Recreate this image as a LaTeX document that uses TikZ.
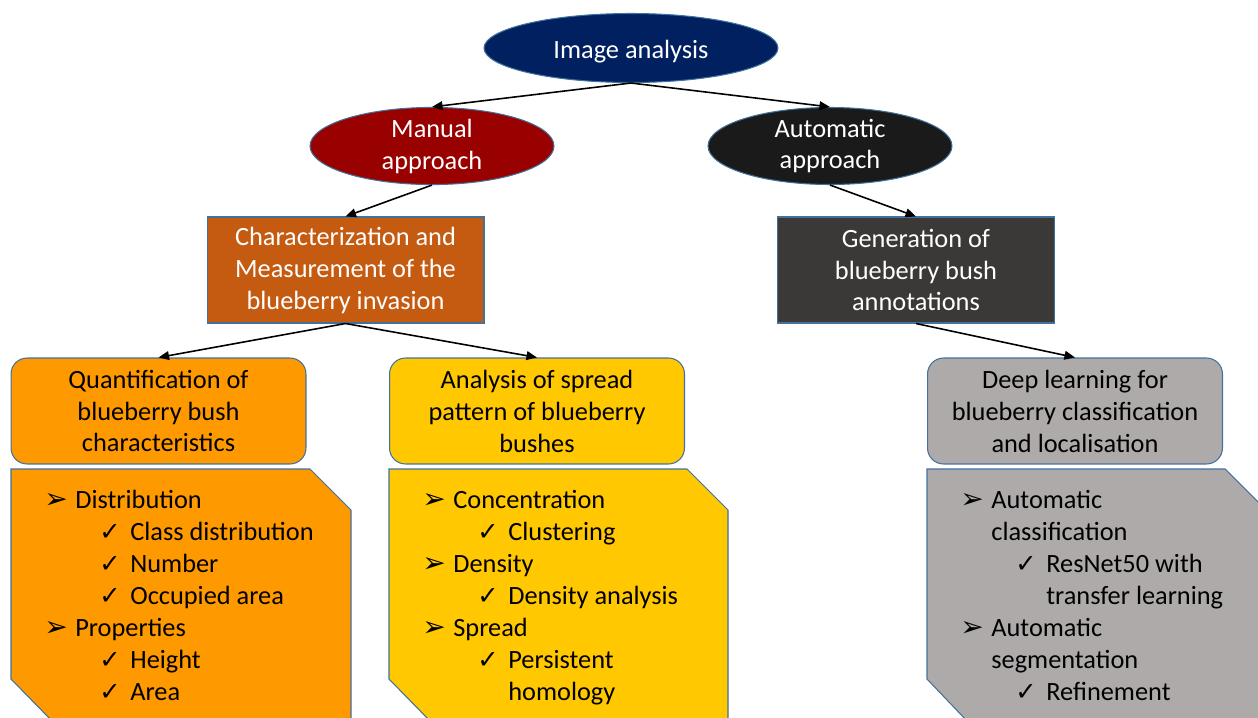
\documentclass[tikz,border=0pt]{standalone}
\usepackage{fontspec}
\setmainfont{Carlito}
\newfontfamily\dingfont{DejaVu Sans}
\usetikzlibrary{shapes.geometric,arrows.meta}

\definecolor{edgeblue}{HTML}{41719C}
\definecolor{rootnavy}{HTML}{002060}
\definecolor{manualred}{HTML}{990000}
\definecolor{autoblack}{HTML}{1A1A1A}
\definecolor{measbrown}{HTML}{C55A11}
\definecolor{gendark}{HTML}{3B3838}
\definecolor{quantorange}{HTML}{FF9900}
\definecolor{spreadgold}{HTML}{FFC800}
\definecolor{deepgray}{HTML}{AEAAAA}

% list markers and indents
\newcommand{\itemA}{\makebox[0.62cm][l]{\dingfont\fontsize{16}{16}\selectfont ➢}}
\newcommand{\itemB}{\hspace*{1.1cm}\makebox[0.62cm][l]{\dingfont\fontsize{14.5}{14.5}\selectfont ✓}}
\newcommand{\contA}{\hspace*{0.62cm}}
\newcommand{\contB}{\hspace*{1.72cm}}

\begin{document}
\begin{tikzpicture}[x=0.02cm, y=-0.02cm, font=\fontsize{15}{18.2}\selectfont,
	oval/.style={ellipse, draw=edgeblue, line width=0.6pt, inner sep=0pt, minimum height=1.38cm, text=white, align=center},
	block/.style={rectangle, draw=edgeblue, line width=0.6pt, inner sep=0pt, minimum width=5.54cm, minimum height=2.12cm, text=white, align=center},
	goal/.style={rectangle, rounded corners=0.32cm, draw=edgeblue, line width=0.6pt, inner sep=0pt, minimum width=5.9cm, minimum height=2.12cm, align=center},
	snip/.style={draw=edgeblue, line width=0.6pt},
	points/.style={anchor=north west, inner sep=0pt, align=left},
	link/.style={-{Triangle[length=6pt,width=5pt]}, line width=0.9pt}]
	\useasboundingbox (0,0) rectangle (1258,717);
	\clip (0,0) rectangle (1258,717);

	% top of the tree
	\node[oval, fill=rootnavy, minimum width=5.88cm] (image) at (631,48) {\raisebox{-2pt}[\height][\depth]{Image analysis}};
	\node[oval, fill=manualred, minimum width=4.88cm] (manual) at (432,146) {Manual\\approach};
	\node[oval, fill=autoblack, minimum width=4.88cm] (auto) at (830,146) {Automatic\\approach};

	\node[block, fill=measbrown] (measure) at (345.5,270) {Characterization and\\Measurement of the\\blueberry invasion};
	\node[block, fill=gendark] (annot) at (916,270) {Generation of\\blueberry bush\\annotations};

	\node[goal, fill=quantorange] (quant) at (158.5,411) {Quantification of\\blueberry bush\\characteristics};
	\node[goal, fill=spreadgold] (spread) at (537,411) {Analysis of spread\\pattern of blueberry\\bushes};
	\node[goal, fill=deepgray] (deep) at (1075,411) {Deep learning for\\blueberry classification\\and localisation};

	% snipped boxes with the details
	\draw[snip, fill=quantorange] (11,469) -- (310,469) -- (351,510) -- (351,722) -- (53,722) -- (11,679) -- cycle;
	\draw[snip, fill=spreadgold] (389,469) -- (687,469) -- (728,510) -- (728,722) -- (431,722) -- (389,679) -- cycle;
	\draw[snip, fill=deepgray] (927,469) -- (1225,469) -- (1266,510) -- (1266,722) -- (968,722) -- (927,679) -- cycle;

	\node[points] (quantlist) at (44,490) {\itemA Distribution\\
		\itemB Class distribution\\
		\itemB Number\\
		\itemB Occupied area\\
		\itemA Properties\\
		\itemB Height\\
		\itemB Area};
	\node[points] (spreadlist) at (422,490) {\itemA Concentration\\
		\itemB Clustering\\
		\itemA Density\\
		\itemB Density analysis\\
		\itemA Spread\\
		\itemB Persistent\\
		\contB homology};
	\node[points] (deeplist) at (960,490) {\itemA Automatic\\
		\contA classification\\
		\itemB ResNet50 with\\
		\contB transfer learning\\
		\itemA Automatic\\
		\contA segmentation\\
		\itemB Refinement};

	\path[link] (image.south) edge (manual.north);
	\path[link] (image.south) edge (auto.north);
	\path[link] (manual.south) edge (measure.north);
	\path[link] (auto.south) edge (annot.north);
	\path[link] (measure.south) edge (quant.north);
	\path[link] (measure.south) edge (spread.north);
	\path[link] (annot.south) edge (deep.north);
\end{tikzpicture}
\end{document}
